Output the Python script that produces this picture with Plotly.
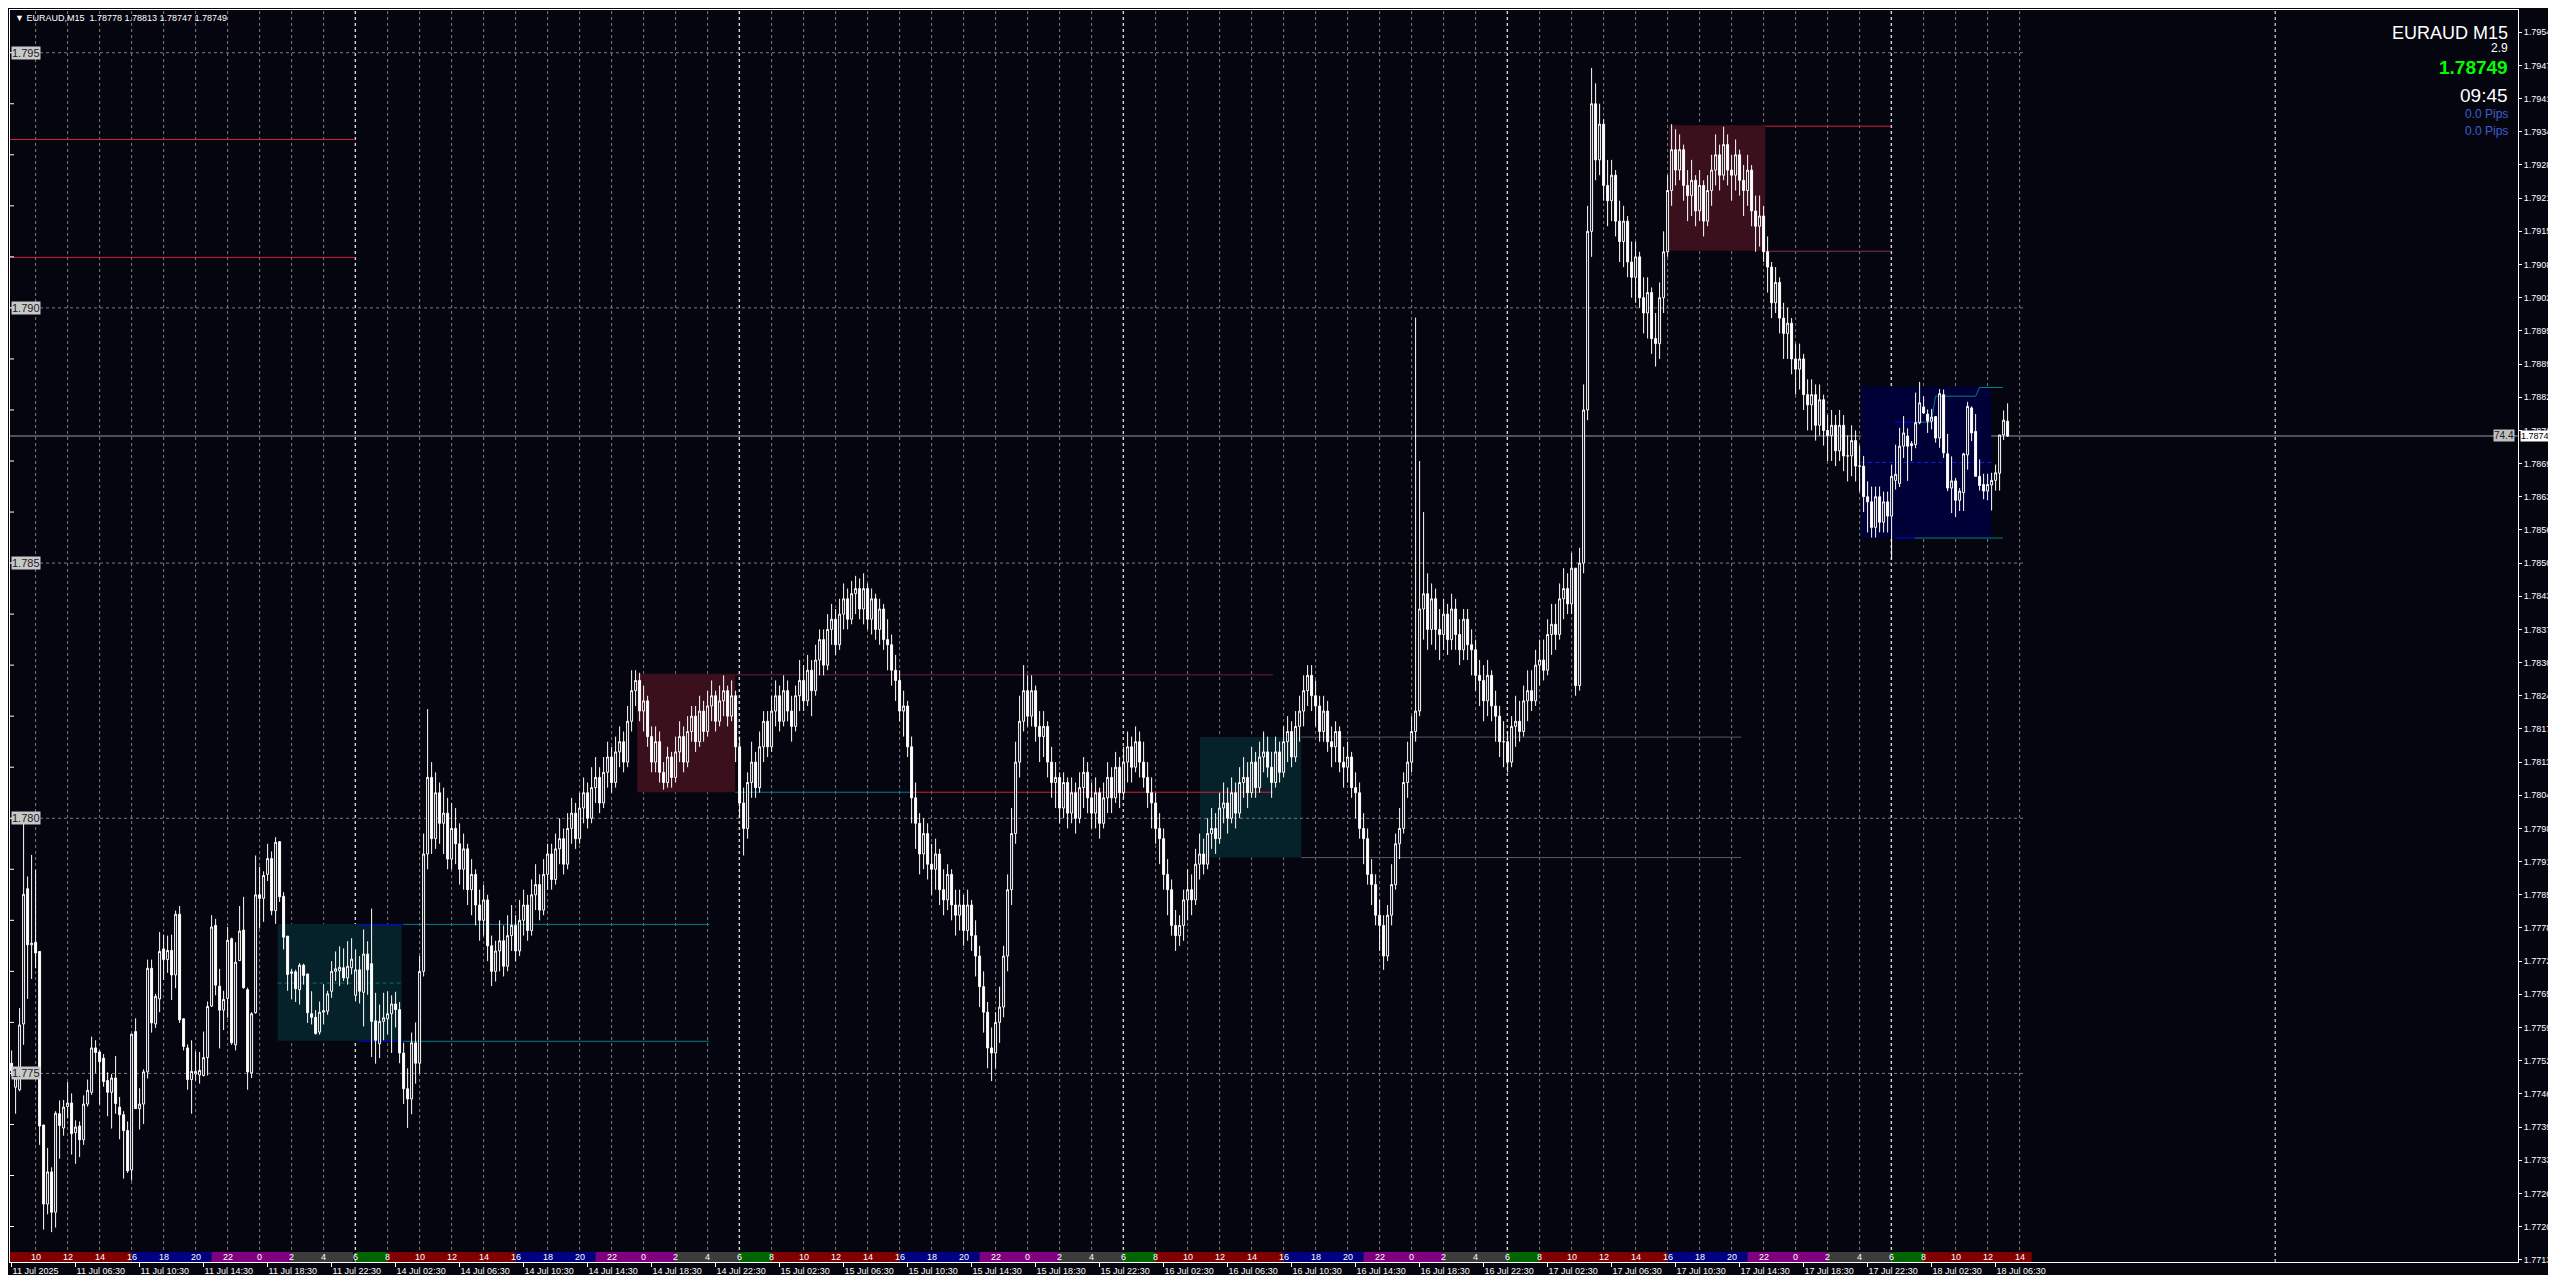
import plotly.graph_objects as go

# ---------------- DATA ----------------
# M15 bars, index 0 = 11 Jul 2025 02:30 (server time). Prices in points (1e-5).
# Block 1: bars 0..95 (explicit OHLC)
open_a = [177520,177473,177468,177597,177862,177752,177757,177739,177399,177244,177307,177228,177421,177393,177435,177442,
          177384,177397,177370,177440,177463,177550,177542,177530,177486,177463,177491,177434,177419,177388,177311,177582,
          177431,177440,177503,177706,177597,177646,177744,177723,177741,177693,177812,177607,177550,177488,177499,177497,
          177496,177531,177632,177790,177671,177624,177647,177764,177556,177721,177781,177664,177501,177619,177850,177843,
          177890,177921,177819,177954,177847,177769,177696,177699,177664,177712,177695,177617,177610,177581,177620,177622,
          177661,177700,177701,177707,177687,177707,177653,177703,177659,177734,177715,177603,177558,177602,177607,177617]
high_a = [177545,177491,177628,177999,177886,177928,177899,177739,177399,177354,177316,177426,177447,177448,177483,177461,
          177408,177406,177457,177488,177572,177565,177545,177538,177502,177499,177534,177454,177426,177406,177577,177608,
          177471,177508,177723,177723,177656,177777,177772,177770,177772,177819,177828,177608,177557,177565,177543,177542,
          177582,177641,177810,177803,177705,177662,177787,177766,177757,177828,177846,177668,177620,177927,177905,177896,
          177950,177935,177963,177955,177855,177769,177705,177703,177716,177715,177695,177661,177624,177641,177675,177662,
          177720,177739,177749,177745,177759,177765,177743,177730,177782,177759,177823,177658,177635,177658,177661,177653]
low_a = [177495,177421,177465,177556,177646,177685,177706,177360,177194,177224,177189,177198,177333,177378,177412,177341,
         177323,177336,177360,177435,177458,177501,177439,177474,177416,177392,177421,177371,177294,177305,177290,177431,
         177390,177401,177490,177580,177589,177620,177683,177697,177644,177667,177599,177545,177468,177421,177486,177480,
         177494,177496,177630,177653,177549,177585,177609,177556,177545,177721,177666,177468,177491,177617,177784,177797,
         177877,177810,177793,177836,177743,177662,177645,177640,177635,177674,177599,177596,177576,177576,177596,177615,
         177648,177681,177671,177681,177674,177694,177641,177637,177592,177654,177532,177519,177530,177565,177576,177540]
close_a = [177505,177491,177595,177851,177752,177755,177736,177397,177244,177307,177228,177422,177398,177434,177442,177382,
           177395,177370,177440,177467,177550,177541,177523,177484,177463,177491,177441,177419,177388,177309,177577,177431,
           177440,177503,177706,177599,177651,177739,177723,177741,177693,177812,177605,177553,177488,177504,177504,177506,
           177531,177631,177787,177673,177624,177645,177761,177560,177718,177779,177668,177503,177617,177850,177843,177888,
           177921,177819,177953,177846,177767,177694,177699,177666,177712,177692,177619,177610,177578,177620,177623,177656,
           177700,177705,177708,177687,177710,177724,177703,177661,177734,177703,177602,177565,177602,177609,177617,177636]

# Block 2: bars 96..469 (open = previous close), read per session
close_b = [
    # 96-155
    177625,177540,177470,177450,177560,177520,177700,177930,178080,177960,178050,177990,
    178010,177920,177980,177950,177900,177940,177860,177890,177830,177800,177840,177750,
    177700,177740,177760,177710,177770,177790,177740,177800,177830,177780,177850,177870,
    177820,177890,177930,177880,177940,177960,177910,177980,178010,177960,178020,178050,
    178000,178060,178080,178030,178090,178120,178070,178130,178150,178110,178190,178250,
    # 156-180
    178270,178210,178230,178160,178110,178150,178090,178070,178120,178080,178130,178160,
    178110,178170,178200,178150,178210,178170,178220,178240,178190,178230,178250,178200,178240,
    # 181-217
    178140,178030,177980,178070,178110,178060,178140,178190,178140,178210,178240,178190,
    178250,178210,178180,178240,178270,178230,178290,178250,178310,178350,178300,178370,
    178390,178340,178400,178430,178390,178440,178450,178410,178450,178390,178430,178370,178410,
    # 218-248
    178350,178340,178290,178270,178210,178220,178140,178040,177990,177930,177970,177910,
    177900,177930,177860,177840,177890,177830,177810,177830,177780,177830,177770,177730,
    177670,177620,177550,177540,177600,177630,177730,
    # 249-284
    177860,177970,178110,178190,178250,178200,178250,178180,178160,178180,178110,178070,
    178080,178020,178070,178010,178050,178000,178060,178090,178040,178010,178050,177990,
    178040,178080,178040,178100,178050,178110,178140,178100,178150,178110,178080,178050,
    # 285-325
    178030,177980,177960,177890,177860,177790,177770,177790,177840,177860,177840,177910,
    177930,177910,177970,177980,177960,178020,178030,178000,178050,178010,178070,178080,
    178050,178110,178060,178120,178130,178100,178070,178130,178090,178150,178170,178120,
    178180,178210,178250,178280,178240,
    # 326-352
    178220,178170,178210,178150,178140,178170,178110,178100,178120,178060,178050,177980,
    177960,177890,177870,177810,177790,177730,177810,177870,177950,177980,178070,178110,
    178170,178210,178410,
    # 353-391
    178440,178370,178430,178370,178360,178400,178350,178410,178360,178330,178390,178340,
    178330,178280,178270,178230,178280,178220,178200,178150,178150,178110,178180,178190,
    178170,178230,178250,178230,178300,178310,178290,178360,178380,178360,178430,178450,
    178420,178490,178260,
    # 392-414
    178500,178800,179150,179400,179290,179360,179240,179210,179260,179170,179130,179170,
    179090,179060,179100,179020,178990,179030,178940,178930,179020,179110,179230,
    # 415-438
    179310,179270,179310,179240,179220,179250,179190,179240,179170,179230,179270,179300,
    179260,179320,179270,179260,179300,179250,179230,179270,179190,179160,179180,179110,
    # 439-462
    179080,179010,179050,178980,178950,178970,178900,178880,178900,178830,178810,178830,
    178770,178820,178760,178750,178770,178720,178770,178710,178710,178740,178690,178690,
    # 463-469
    178630,178620,178570,178630,178580,178620,178592]
high_b = [
    177660,177640,177560,177510,177580,177600,177730,177970,178214,178110,178090,178070,
    178060,178040,178030,178020,177990,177970,177950,177920,177900,177860,177870,177850,
    177770,177760,177800,177790,177810,177830,177810,177840,177860,177850,177880,177910,
    177890,177920,177950,177950,177970,178000,177980,178010,178040,178030,178050,178080,
    178070,178100,178120,178100,178120,178150,178140,178160,178180,178170,178220,178290,
    178290,178285,178260,178240,178180,178180,178170,178110,178140,178130,178160,178190,
    178180,178200,178220,178220,178240,178230,178250,178270,178250,178260,178280,178260,178270,
    178250,178160,178060,178090,178150,178130,178170,178210,178210,178240,178270,178260,
    178280,178270,178240,178260,178310,178300,178320,178310,178340,178370,178370,178400,
    178420,178410,178430,178460,178450,178465,178475,178470,178480,178460,178450,178440,178430,
    178420,178390,178360,178320,178290,178250,178230,178160,178070,178010,178000,177990,
    177950,177960,177940,177900,177910,177900,177860,177860,177850,177860,177840,177800,
    177750,177700,177640,177590,177620,177670,177750,
    177890,178020,178150,178240,178300,178280,178280,178260,178210,178210,178190,178140,
    178110,178090,178090,178080,178080,178070,178090,178120,178110,178070,178080,178060,
    178070,178110,178100,178130,178120,178140,178170,178160,178180,178170,178150,178110,
    178080,178050,178010,177980,177920,177880,177820,177810,177860,177900,177890,177940,
    177970,177960,178000,178020,178010,178050,178070,178060,178080,178070,178100,178120,
    178110,178140,178130,178150,178170,178160,178130,178160,178150,178180,178200,178190,
    178210,178240,178280,178300,178300,
    178270,178240,178240,178230,178180,178190,178180,178140,178150,178130,178090,178070,
    178010,177980,177920,177890,177840,177810,177830,177910,177970,178020,178090,178150,
    178200,178981,178700,
    178600,178480,178460,178450,178410,178430,178420,178440,178430,178390,178410,178410,
    178370,178350,178310,178300,178310,178290,178250,178220,178190,178170,178200,178240,
    178230,178260,178290,178290,178330,178350,178350,178390,178420,178420,178460,178490,
    178480,178520,178490,
    178530,178850,179200,179470,179440,179400,179370,179290,179290,179270,179210,179200,
    179180,179130,179130,179110,179060,179060,179040,178990,179050,179150,179260,
    179360,179350,179340,179320,179270,179290,179260,179270,179250,179260,179300,179340,
    179320,179355,179340,179300,179330,179310,179280,179300,179280,179220,179220,179200,
    179140,179090,179080,179060,179010,179000,178980,178930,178930,178910,178860,178860,
    178850,178850,178830,178790,178800,178790,178800,178790,178750,178770,178760,178730,
    178710,178660,178650,178650,178650,178640,178640]
low_b = [
    177590,177520,177440,177393,177420,177480,177500,177690,177900,177930,177940,177950,
    177930,177900,177900,177910,177870,177860,177830,177810,177790,177760,177770,177720,
    177671,177680,177700,177690,177700,177740,177720,177730,177770,177760,177770,177820,
    177800,177810,177860,177860,177870,177910,177890,177900,177950,177940,177950,177990,
    177980,177990,178030,178010,178020,178060,178050,178060,178100,178090,178100,178170,
    178220,178190,178170,178140,178090,178090,178070,178056,178060,178060,178070,178110,
    178090,178100,178150,178130,178140,178150,178160,178190,178170,178180,178200,178180,178190,
    178110,178000,177927,177960,178040,178040,178050,178110,178120,178130,178180,178170,
    178180,178190,178150,178170,178210,178210,178220,178200,178240,178280,178280,178290,
    178340,178320,178330,178370,178370,178380,178400,178390,178380,178370,178360,178350,178340,
    178330,178290,178260,178230,178190,178160,178120,177990,177940,177890,177900,177880,
    177850,177860,177830,177810,177820,177800,177770,177780,177750,177760,177740,177690,
    177630,177580,177510,177485,177510,177560,177610,
    177700,177830,177950,178080,178170,178180,178180,178150,178110,178120,178080,178040,
    178020,177990,178000,177980,177990,177970,177990,178020,178010,177980,177980,177960,
    177980,178010,178010,178030,178020,178040,178070,178070,178090,178080,178060,178020,
    177980,177950,177910,177860,177810,177770,177740,177750,177760,177800,177810,177830,
    177880,177890,177900,177940,177930,177950,177990,177970,177990,177980,178000,178040,
    178020,178040,178040,178050,178090,178080,178040,178060,178070,178080,178110,178100,
    178110,178150,178180,178220,178210,
    178180,178150,178150,178130,178100,178110,178090,178060,178070,178040,178000,177960,
    177910,177870,177830,177790,177740,177703,177720,177790,177860,177920,177970,178040,
    178090,178150,178200,
    178350,178330,178340,178330,178310,178330,178320,178330,178330,178300,178310,178310,
    178280,178250,178220,178190,178200,178190,178150,178120,178100,178090,178100,178140,
    178150,178160,178190,178210,178220,178260,178270,178280,178320,178330,178350,178390,
    178400,178400,178240,
    178250,178480,178780,179100,179250,179260,179210,179160,179170,179140,179090,179080,
    179060,179020,179010,179000,178950,178940,178910,178885,178900,178990,179100,
    179200,179240,179250,179210,179170,179180,179160,179170,179140,179160,179200,179240,
    179230,179250,179240,179210,179230,179220,179180,179200,179160,179110,179120,179090,
    179030,178980,178990,178950,178900,178900,178870,178830,178840,178800,178760,178760,
    178740,178750,178730,178700,178700,178690,178700,178680,178660,178670,178660,178640,
    178600,178560,178550,178550,178560,178560,178560]

# Block 3: bars 470..499 (explicit OHLC)
open_c = [178592,178662,178656,178729,178749,178734,178732,178775,178806,178792,178778,178787,178745,178830,178714,178647,
          178661,178623,178638,178712,178804,178758,178670,178654,178641,178653,178662,178676,178751,178778]
high_c = [178693,178732,178765,178788,178764,178739,178834,178855,178827,178801,178802,178788,178841,178840,178753,178709,
          178667,178647,178716,178816,178807,178792,178703,178675,178675,178677,178693,178751,178799,178813]
low_c = [178507,178644,178649,178706,178661,178700,178725,178772,178792,178755,178762,178736,178726,178706,178641,178598,
         178590,178602,178602,178683,178739,178670,178642,178625,178623,178603,178642,178642,178741,178747]
close_c = [178670,178674,178729,178755,178729,178730,178775,178814,178794,178778,178786,178745,178832,178716,178647,178661,
           178623,178641,178714,178807,178755,178670,178652,178641,178654,178662,178677,178751,178780,178749]

last_price = 1.78749
symbol_title = "▼ EURAUD,M15  1.78778 1.78813 1.78747 1.78749"

right_ticks = [1.79540, 1.79475, 1.79410, 1.79345, 1.79280, 1.79215, 1.79150, 1.79085, 1.79020, 1.78955,
               1.78890, 1.78825, 1.78760, 1.78695, 1.78630, 1.78565, 1.78500, 1.78435, 1.78370, 1.78305,
               1.78240, 1.78175, 1.78110, 1.78045, 1.77980, 1.77915, 1.77850, 1.77785, 1.77720, 1.77655,
               1.77590, 1.77525, 1.77460, 1.77395, 1.77330, 1.77265, 1.77200, 1.77135]
left_labels = [1.795, 1.790, 1.785, 1.780, 1.775]
left_minor = [1.772, 1.773, 1.774, 1.776, 1.777, 1.778, 1.779, 1.781, 1.782, 1.783, 1.784,
              1.786, 1.787, 1.788, 1.789, 1.791, 1.792, 1.793, 1.794]

time_tick_bars = [0, 16, 32, 48, 64, 80, 96, 112, 128, 144, 160, 176, 192, 208, 224, 240,
                  256, 272, 288, 304, 320, 336, 352, 368, 384, 400, 416, 432, 448, 464, 480, 496]
time_labels = ["11 Jul 2025", "11 Jul 06:30", "11 Jul 10:30", "11 Jul 14:30", "11 Jul 18:30", "11 Jul 22:30",
               "14 Jul 02:30", "14 Jul 06:30", "14 Jul 10:30", "14 Jul 14:30", "14 Jul 18:30", "14 Jul 22:30",
               "15 Jul 02:30", "15 Jul 06:30", "15 Jul 10:30", "15 Jul 14:30", "15 Jul 18:30", "15 Jul 22:30",
               "16 Jul 02:30", "16 Jul 06:30", "16 Jul 10:30", "16 Jul 14:30", "16 Jul 18:30", "16 Jul 22:30",
               "17 Jul 02:30", "17 Jul 06:30", "17 Jul 10:30", "17 Jul 14:30", "17 Jul 18:30", "17 Jul 22:30",
               "18 Jul 02:30", "18 Jul 06:30"]

hour_tick_bars = list(range(6, 503, 8))
hour_labels = [10,12,14,16,18,20,22,0,2,4,6,8,10,12,14,16,18,20,22,0,2,4,6,8,10,12,14,16,18,20,22,0,2,4,6,8,
               10,12,14,16,18,20,22,0,2,4,6,8,10,12,14,16,18,20,22,0,2,4,6,8,10,12,14]
strip_segments = [(-0.4, 30, "#800000"), (30, 50, "#000080"), (50, 70, "#800080"), (70, 85.4, "#3c3c3c"),
                  (86, 94, "#006400"), (94, 126, "#800000"), (126, 146, "#000080"), (146, 166, "#800080"),
                  (166, 182, "#3c3c3c"), (182, 190, "#006400"), (190, 222, "#800000"), (222, 242, "#000080"),
                  (242, 262, "#800080"), (262, 278, "#3c3c3c"), (278, 286, "#006400"), (286, 318, "#800000"),
                  (318, 338, "#000080"), (338, 358, "#800080"), (358, 374, "#3c3c3c"), (374, 382, "#006400"),
                  (382, 414, "#800000"), (414, 434, "#000080"), (434, 454, "#800080"), (454, 470, "#3c3c3c"),
                  (470, 478, "#006400"), (478, 505, "#800000")]

day_separator_bars = [85.9, 181.9, 277.9, 373.9, 469.9, 565.9]

session_boxes = [(66.5, 97.5, 1.77564, 1.77793, "#05222a"),
                 (156.4, 180.9, 1.78051, 1.78283, "#3a101c"),
                 (297.1, 322.4, 1.77923, 1.78159, "#05222a"),
                 (414.4, 438.4, 1.79112, 1.79358, "#3a101c"),
                 (462.4, 494.9, 1.78549, 1.78845, "#000038")]
box_midlines = [(66.5, 97.5, 1.77677, "#0e6a72"), (462.4, 494.9, 1.78697, "#1020e0")]
level_lines = [(-0.4, 85.9, 1.79330, "#d0203a"), (-0.4, 85.9, 1.79099, "#d0203a"),
               (86.9, 97.9, 1.77792, "#0000ff"), (97.9, 174.4, 1.77792, "#00808a"),
               (86.9, 97.9, 1.77563, "#0000ff"), (97.9, 174.4, 1.77563, "#00808a"),
               (180.9, 315.3, 1.78281, "#6a1f40"), (180.9, 224.4, 1.78051, "#00808a"), (224.4, 315.3, 1.78051, "#d0203a"),
               (322.4, 432.4, 1.78159, "#5a5a5a"), (322.4, 432.4, 1.77923, "#5a5a5a"),
               (438.4, 469.9, 1.79356, "#d0203a"), (438.4, 469.9, 1.79111, "#8a2a50"),
               (470.8, 475.8, 1.78776, "#0000ff"), (475.8, 479.9, 1.78776, "#00808a"),
               (481.0, 491.0, 1.78827, "#00808a"), (492.0, 497.85, 1.78844, "#00808a"),
               (470.8, 475.8, 1.78549, "#0000ff"), (475.8, 497.85, 1.78549, "#00808a")]
level_steps = [(479.9, 481.0, 1.78776, 1.78827, "#00808a"), (491.0, 492.0, 1.78827, 1.78844, "#00808a")]

# ---------------- FIGURE ----------------
W, H = 2556, 1275
PL, PR, PT, PB = 2, 2510, 2, 1254
BG = "#05050f"
FONT = "Liberation Sans"

def px_x(px):
    return (px - PL) / (PR - PL)

def px_y(py):
    return (PB - py) / (PB - PT)

X_RANGE = [-0.4, 626.6]
Y_RANGE = [1.771305, 1.795837]
GRID_END = 503.35

assert len(close_b) == len(high_b) == len(low_b) == 374
open_b = [close_a[-1]] + close_b[:-1]
opens = open_a + open_b + open_c
highs = high_a + high_b + high_c
lows = low_a + low_b + low_c
closes = close_a + close_b + close_c
bar_index = list(range(len(closes)))
highs = [max(hh, oo, cc) for hh, oo, cc in zip(highs, opens, closes)]
lows = [min(ll, oo, cc) for ll, oo, cc in zip(lows, opens, closes)]

o = [v / 1e5 for v in opens]
h = [v / 1e5 for v in highs]
l = [v / 1e5 for v in lows]
c = [v / 1e5 for v in closes]

fig = go.Figure()
shapes = []
for x0, x1, lo, hi, col in session_boxes:
    shapes.append(dict(type="rect", xref="x", yref="y", x0=x0, x1=x1, y0=lo, y1=hi,
                       fillcolor=col, line=dict(width=0), layer="below"))
for p in left_labels:
    shapes.append(dict(type="line", xref="x", yref="y", x0=X_RANGE[0], x1=GRID_END, y0=p, y1=p,
                       line=dict(color="#7c7c7c", width=1, dash="3px,3px"), layer="below"))
for b in hour_tick_bars:
    shapes.append(dict(type="line", xref="x", yref="paper", x0=b, x1=b, y0=0, y1=1,
                       line=dict(color="#7c7c7c", width=1, dash="3px,3px"), layer="below"))
for b in day_separator_bars:
    shapes.append(dict(type="line", xref="x", yref="paper", x0=b, x1=b, y0=0, y1=1,
                       line=dict(color="#ffffff", width=1, dash="3px,3px"), layer="below"))
for x0, x1, p, col in box_midlines:
    shapes.append(dict(type="line", xref="x", yref="y", x0=x0, x1=x1, y0=p, y1=p,
                       line=dict(color=col, width=1, dash="4px,3px"), layer="below"))
for x0, x1, p, col in level_lines:
    shapes.append(dict(type="line", xref="x", yref="y", x0=x0, x1=x1, y0=p, y1=p,
                       line=dict(color=col, width=1), layer="below"))
for x0, x1, p0, p1, col in level_steps:
    shapes.append(dict(type="line", xref="x", yref="y", x0=x0, x1=x1, y0=p0, y1=p1,
                       line=dict(color=col, width=1), layer="below"))
shapes.append(dict(type="line", xref="paper", yref="y", x0=0, x1=1, y0=last_price, y1=last_price,
                   line=dict(color="#9a9aaa", width=1), layer="below"))
for p in left_minor + left_labels:
    shapes.append(dict(type="line", xref="paper", yref="y", x0=0, x1=px_x(6), y0=p, y1=p,
                       line=dict(color="#ffffff", width=1)))
strip_top = px_y(1244)
for x0, x1, col in strip_segments:
    shapes.append(dict(type="rect", xref="x", yref="paper", x0=x0, x1=x1, y0=0, y1=strip_top,
                       fillcolor=col, line=dict(width=0), layer="above"))

fig.add_trace(go.Candlestick(
    x=bar_index, open=o, high=h, low=l, close=c,
    increasing=dict(line=dict(color="#ffffff", width=1), fillcolor=BG),
    decreasing=dict(line=dict(color="#ffffff", width=1), fillcolor="#ffffff"),
    whiskerwidth=0, hoverinfo="skip", showlegend=False))

ann = []
for b, t in zip(hour_tick_bars, hour_labels):
    ann.append(dict(x=b, y=strip_top / 2, xref="x", yref="paper", text=str(t), showarrow=False,
                    font=dict(family=FONT, size=9, color="#ffffff"), xanchor="center", yanchor="middle"))
for p in left_labels:
    ann.append(dict(x=px_x(3), y=p, xref="paper", yref="y", text=f"{p:.3f}", showarrow=False,
                    font=dict(family=FONT, size=11, color="#202020"), bgcolor="#c8c8c8",
                    xanchor="left", yanchor="middle", borderpad=0))
ann.append(dict(x=px_x(5), y=px_y(10), xref="paper", yref="paper", text=symbol_title, showarrow=False,
                font=dict(family=FONT, size=9, color="#ffffff"), xanchor="left", yanchor="middle"))
info = [("EURAUD M15", 18, "#ffffff", 25, False), ("2.9", 12, "#ffffff", 40, False),
        ("1.78749", 19, "#00ff00", 59, True), ("09:45", 19, "#ffffff", 88, False),
        ("0.0 Pips", 12, "#3f5fcf", 106, False), ("0.0 Pips", 12, "#3f5fcf", 123, False)]
for t, s, col, y, bold in info:
    ann.append(dict(x=px_x(2502), y=px_y(y), xref="paper", yref="paper",
                    text=f"<b>{t}</b>" if bold else t, showarrow=False,
                    font=dict(family=FONT, size=s, color=col), xanchor="right", yanchor="middle"))
ann.append(dict(x=1, y=last_price, xref="paper", yref="y", text=f"{last_price:.5f}", showarrow=False,
                font=dict(family=FONT, size=9, color="#000000"), bgcolor="#ffffff",
                xanchor="left", yanchor="middle", xshift=2, borderpad=0))
ann.append(dict(x=px_x(2507), y=last_price, xref="paper", yref="y", text="74.4", showarrow=False,
                font=dict(family=FONT, size=10, color="#202020"), bgcolor="#c0c0c0",
                xanchor="right", yanchor="middle", borderpad=0))

fig.update_layout(
    width=W, height=H, paper_bgcolor=BG, plot_bgcolor=BG,
    margin=dict(l=PL, r=W - PR, t=PT, b=H - PB, pad=0),
    shapes=shapes, annotations=ann, showlegend=False,
    xaxis=dict(range=X_RANGE, rangeslider=dict(visible=False), showgrid=False, zeroline=False,
               showline=True, linecolor="#ffffff", linewidth=1, mirror=True,
               tickmode="array", tickvals=time_tick_bars, ticktext=time_labels,
               ticks="outside", ticklen=4, tickcolor="#ffffff",
               ticklabelposition="outside right",
               tickfont=dict(family=FONT, size=9, color="#ffffff")),
    yaxis=dict(range=Y_RANGE, side="right", showgrid=False, zeroline=False,
               showline=True, linecolor="#ffffff", linewidth=1, mirror=True,
               tickmode="array", tickvals=right_ticks, ticktext=[f"{v:.5f}" for v in right_ticks],
               ticks="outside", ticklen=3, tickcolor="#ffffff",
               tickfont=dict(family=FONT, size=9, color="#ffffff")),
)

fig.write_html("out.html", config={"displayModeBar": False})
